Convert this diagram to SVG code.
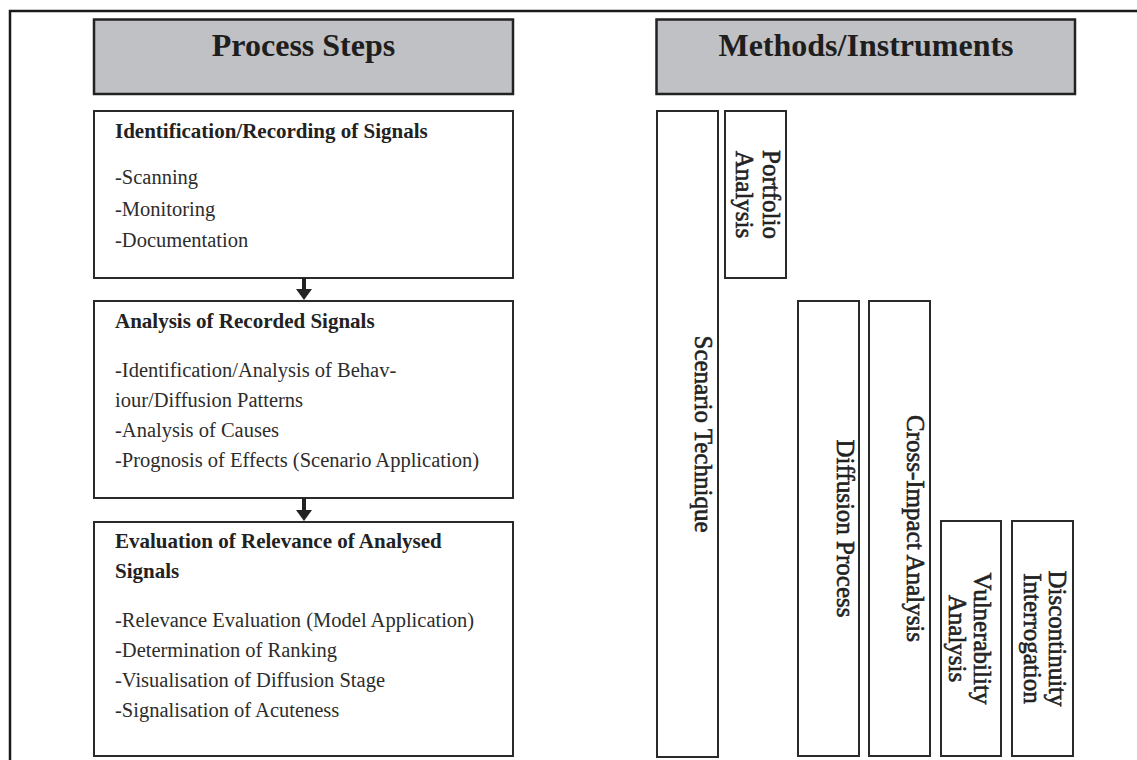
<svg xmlns="http://www.w3.org/2000/svg" width="1137" height="760" viewBox="0 0 1137 760">
  <style>
    .hdr { fill: #c0c1c4; stroke: #222; stroke-width: 2.5; }
    .box { fill: #fff; stroke: #2a2a2a; stroke-width: 2; }
    .title { font-family: "Liberation Serif", "Times New Roman", serif; font-weight: bold; font-size: 32px; fill: #1e1e1e; text-anchor: middle; }
    .head { font-family: "Liberation Serif", "Times New Roman", serif; font-weight: bold; font-size: 21px; fill: #222; }
    .item { font-family: "Liberation Serif", "Times New Roman", serif; font-size: 20.5px; fill: #2c2c2c; }
    .vlabel { font-family: "Liberation Serif", "Times New Roman", serif; font-size: 25px; fill: #222; stroke: #222; stroke-width: 0.6; text-anchor: middle; }
    .frame { fill: none; stroke: #1a1a1a; stroke-width: 2.5; }
    .conn { stroke: #222; stroke-width: 4; fill: none; }
    .head-tip { fill: #222; }
  </style>

  <!-- outer frame: left and top edges only -->
  <path class="frame" d="M10,760 V11 H1137"/>

  <!-- column headers -->
  <g id="header-process">
    <rect class="hdr" x="94" y="19.5" width="419" height="74.5"/>
    <text class="title" x="303.5" y="56">Process Steps</text>
  </g>
  <g id="header-methods">
    <rect class="hdr" x="656.5" y="19.5" width="418.5" height="74.5"/>
    <text class="title" x="866" y="56">Methods/Instruments</text>
  </g>

  <!-- process steps -->
  <g id="step-identification">
    <rect class="box" x="94" y="111" width="419" height="167"/>
    <text class="head" x="115" y="138">Identification/Recording of Signals</text>
    <text class="item" x="115" y="184">-Scanning</text>
    <text class="item" x="115" y="216">-Monitoring</text>
    <text class="item" x="115" y="247">-Documentation</text>
  </g>
  <g id="step-analysis">
    <rect class="box" x="94" y="301" width="419" height="197"/>
    <text class="head" x="115" y="328">Analysis of Recorded Signals</text>
    <text class="item" x="115" y="377">-Identification/Analysis of Behav-</text>
    <text class="item" x="115" y="407">iour/Diffusion Patterns</text>
    <text class="item" x="115" y="437">-Analysis of Causes</text>
    <text class="item" x="115" y="467">-Prognosis of Effects (Scenario Application)</text>
  </g>
  <g id="step-evaluation">
    <rect class="box" x="94" y="522" width="419" height="234"/>
    <text class="head" x="115" y="548">Evaluation of Relevance of Analysed</text>
    <text class="head" x="115" y="578">Signals</text>
    <text class="item" x="115" y="627">-Relevance Evaluation (Model Application)</text>
    <text class="item" x="115" y="657">-Determination of Ranking</text>
    <text class="item" x="115" y="687">-Visualisation of Diffusion Stage</text>
    <text class="item" x="115" y="717">-Signalisation of Acuteness</text>
  </g>

  <!-- methods / instruments -->
  <g id="method-scenario">
    <rect class="box" x="657" y="111" width="61" height="646"/>
    <text class="vlabel" transform="translate(695,434) rotate(90)">Scenario Technique</text>
  </g>
  <g id="method-portfolio">
    <rect class="box" x="725" y="111" width="61" height="167"/>
    <text class="vlabel" transform="translate(763,194.5) rotate(90)"><tspan x="0" y="0">Portfolio</tspan><tspan x="0" y="27">Analysis</tspan></text>
  </g>
  <g id="method-diffusion">
    <rect class="box" x="798" y="301" width="61" height="455"/>
    <text class="vlabel" transform="translate(837,528.5) rotate(90)">Diffusion Process</text>
  </g>
  <g id="method-cross-impact">
    <rect class="box" x="869" y="301" width="61" height="455"/>
    <text class="vlabel" transform="translate(907,528.5) rotate(90)">Cross-Impact Analysis</text>
  </g>
  <g id="method-vulnerability">
    <rect class="box" x="941" y="521" width="60" height="235"/>
    <text class="vlabel" transform="translate(974,638.5) rotate(90)"><tspan x="0" y="0">Vulnerability</tspan><tspan x="0" y="25">Analysis</tspan></text>
  </g>
  <g id="method-discontinuity">
    <rect class="box" x="1012" y="521" width="61" height="235"/>
    <text class="vlabel" transform="translate(1049,638.5) rotate(90)"><tspan x="0" y="0">Discontinuity</tspan><tspan x="0" y="25">Interrogation</tspan></text>
  </g>

  <!-- connectors between process steps -->
  <g id="connectors">
    <line class="conn" x1="304" y1="278" x2="304" y2="290"/>
    <polygon class="head-tip" points="296,289 312,289 304,300"/>
    <line class="conn" x1="304" y1="498" x2="304" y2="511"/>
    <polygon class="head-tip" points="296,510 312,510 304,521"/>
  </g>
</svg>
